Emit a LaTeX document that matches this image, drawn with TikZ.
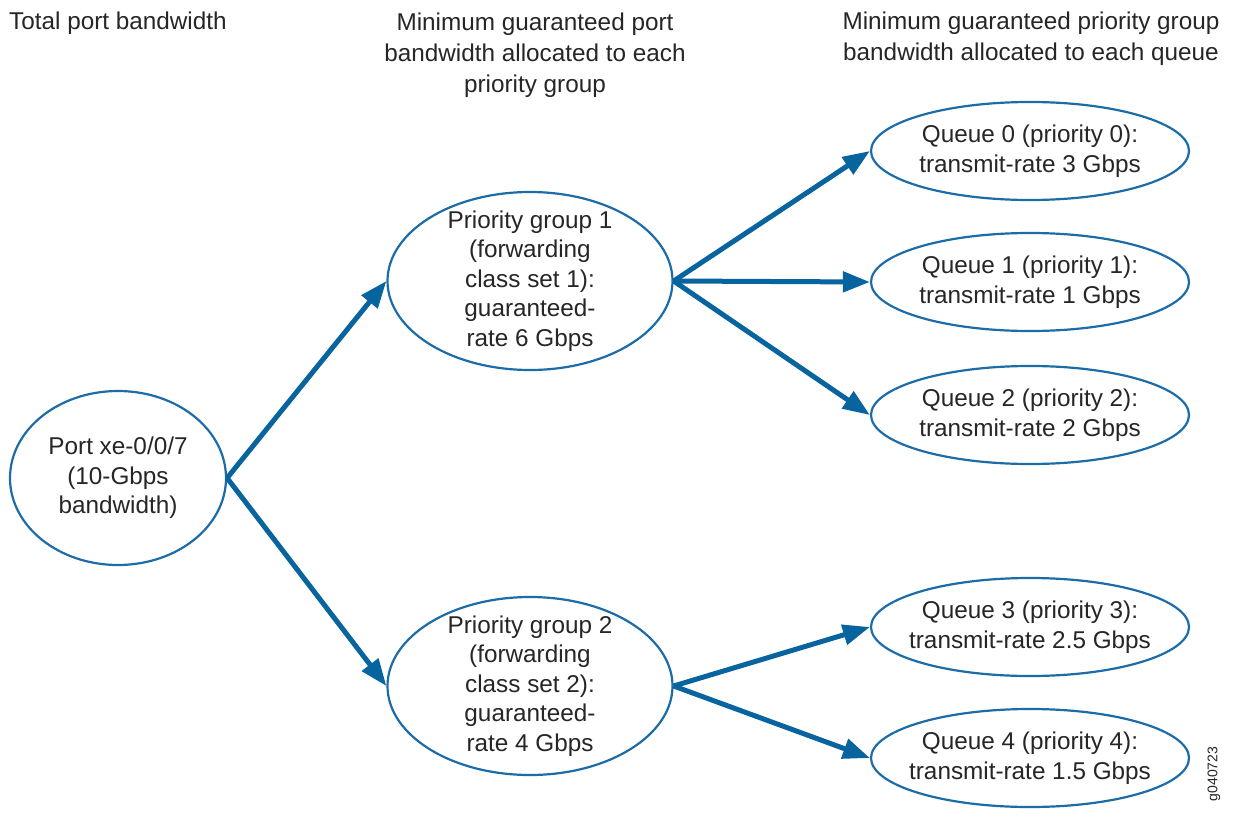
\documentclass[tikz,border=0pt]{standalone}
\usepackage{fontspec}
\setmainfont{Liberation Sans}
\usetikzlibrary{shapes.geometric,arrows.meta}
\definecolor{ringblue}{RGB}{28,108,168}
\definecolor{arrowblue}{RGB}{8,100,158}
\tikzset{
  oval/.style={ellipse, draw=ringblue, line width=2.2pt, inner sep=-40pt, align=center,
    font=\fontsize{24.3}{29.5}\selectfont, text=black!85},
  portoval/.style={oval, minimum width=216pt, minimum height=174pt},
  groupoval/.style={oval, minimum width=285pt, minimum height=178pt},
  queueoval/.style={oval, minimum width=318pt, minimum height=98pt},
  flow/.style={draw=arrowblue, line width=5pt, -{Triangle[length=27pt,width=20pt]}},
  header/.style={font=\fontsize{24.3}{31}\selectfont, text=black!85, inner sep=0pt, align=center}
}
\begin{document}
\begin{tikzpicture}[x=1pt,y=-1pt]
\useasboundingbox (0,0) rectangle (1233,816);
\fill[white] (0,0) rectangle (1233,816);

\node[header, anchor=west] (h1) at (9,23) {Total port bandwidth};
\node[header] (h2) at (535,55) {Minimum guaranteed port\\bandwidth allocated to each\\priority group};
\node[header] (h3) at (1031,39) {Minimum guaranteed priority group\\bandwidth allocated to each queue};

\node[portoval] (port) at (118,478) {Port xe-0/0/7\\(10-Gbps\\bandwidth)};
\node[groupoval] (pg1) at (530,281) {Priority group 1\\(forwarding\\class set 1):\\guaranteed-\\rate 6 Gbps};
\node[groupoval] (pg2) at (530,686) {Priority group 2\\(forwarding\\class set 2):\\guaranteed-\\rate 4 Gbps};

\node[queueoval] (q0) at (1030,151) {Queue 0 (priority 0):\\transmit-rate 3 Gbps};
\node[queueoval] (q1) at (1030,282) {Queue 1 (priority 1):\\transmit-rate 1 Gbps};
\node[queueoval] (q2) at (1030,415) {Queue 2 (priority 2):\\transmit-rate 2 Gbps};
\node[queueoval] (q3) at (1030,627) {Queue 3 (priority 3):\\transmit-rate 2.5 Gbps};
\node[queueoval] (q4) at (1030,758) {Queue 4 (priority 4):\\transmit-rate 1.5 Gbps};

\draw[flow] (port.east) -- (pg1.west);
\draw[flow] (port.east) -- (pg2.west);
\draw[flow] (pg1.east) -- (q0.west);
\draw[flow] (pg1.east) -- (q1.west);
\draw[flow] (pg1.east) -- (q2.west);
\draw[flow] (pg2.east) -- (q3.west);
\draw[flow] (pg2.east) -- (q4.west);

\node[rotate=90, font=\fontsize{14}{14}\selectfont, text=black!85, inner sep=0pt] (tag) at (1214,774) {g040723};
\end{tikzpicture}
\end{document}
